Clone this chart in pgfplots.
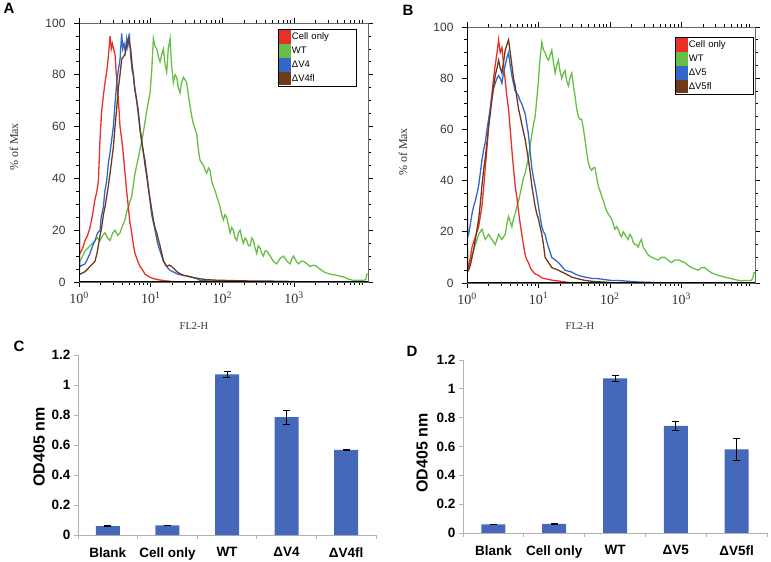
\documentclass[border=0pt]{standalone}
\usepackage{pgfplots}
\pgfplotsset{compat=1.18}
\usepackage{pgfplotstable}
\usepackage{fontspec}
\setmainfont{Liberation Sans}
\newfontfamily\seriffont{Liberation Serif}
\definecolor{cred}{RGB}{232,48,40}
\definecolor{cgreen}{RGB}{104,190,70}
\definecolor{cblue}{RGB}{52,104,200}
\definecolor{cbrown}{RGB}{110,58,28}
\definecolor{cbar}{RGB}{70,104,186}
\definecolor{tickgray}{RGB}{55,55,55}

\pgfplotstableread{
x y e
0 0.060 0.003
1 0.064 0.003
2 1.070 0.020
3 0.785 0.046
4 0.568 0.003
}\tblC
\pgfplotstableread{
x y e
0 0.060 0.003
1 0.063 0.003
2 1.072 0.021
3 0.743 0.030
4 0.580 0.076
}\tblD

\newcommand{\dec}[1]{{\seriffont 10\textsuperscript{#1}}}

\pgfplotsset{
 flow/.style={
  scale only axis, xmin=0, xmax=4.03, ymin=0, ymax=100,
  xtick={0,1,2,3}, xticklabels={\dec{0},\dec{1},\dec{2},\dec{3}},
  minor xtick={0.301,0.477,0.602,0.699,0.778,0.845,0.903,0.954,
   1.301,1.477,1.602,1.699,1.778,1.845,1.903,1.954,
   2.301,2.477,2.602,2.699,2.778,2.845,2.903,2.954,
   3.301,3.477,3.602,3.699,3.778,3.845,3.903,3.954},
  ytick={0,20,40,60,80,100},
  minor ytick={5,10,15,25,30,35,45,50,55,65,70,75,85,90,95},
  tick align=outside, major tick length=5pt, minor tick length=3pt,
  tick style={black, line width=0.7pt},
  axis line style={black!60, line width=0.5pt},
  yticklabel style={font=\fontsize{12}{12}\selectfont, text=tickgray, xshift=-5pt},
  xticklabel style={font=\fontsize{14}{14}\selectfont, text=black!80, yshift=-1pt},
  /pgf/number format/assume math mode=true,
  every axis plot/.append style={line width=1.3pt},
  legend image code/.code={\path[##1] (0pt,-6.9pt) rectangle (12pt,6.9pt);},
  legend cell align=left,
  legend style={draw=black, line width=0.5pt, font=\fontsize{9.5}{9.5}\selectfont,
    inner xsep=1pt, inner ysep=1pt, row sep=0pt,
    nodes={inner sep=0.6pt, minimum height=13.8pt},
    /tikz/column 2/.style={text width=63pt}},
 },
 bars/.style={
  scale only axis, ymin=0, ymax=1.2, ytick={0,0.2,0.4,0.6,0.8,1,1.2},
  xmin=-0.5, xmax=4.5,
  axis x line*=bottom, axis y line*=left,
  axis line style={black!30, line width=0.8pt},
  xtick={-0.5,0.5,1.5,2.5,3.5,4.5}, x tick label as interval,
  tick align=outside, major tick length=4pt,
  tick style={black!30, line width=0.8pt},
  yticklabel style={font=\bfseries\fontsize{13.5}{13.5}\selectfont, text=black},
  xticklabel style={font=\bfseries\fontsize{13.5}{13.5}\selectfont, text=black, yshift=-5pt},
  /pgf/number format/assume math mode=true,
  ybar, bar width=24pt,
 },
}

\begin{document}
\begin{tikzpicture}
\useasboundingbox (0,0) rectangle (771pt,562pt);

% ---------------- Panel A
\begin{axis}[flow, at={(79pt,280pt)}, anchor=south west, width=289pt, height=259pt,
  legend style={at={(0.689,0.977)}, anchor=north west}]
\addlegendimage{fill=cred, draw=none}\addlegendentry{Cell only}
\addlegendimage{fill=cgreen, draw=none}\addlegendentry{WT}
\addlegendimage{fill=cblue, draw=none}\addlegendentry{ΔV4}
\addlegendimage{fill=cbrown, draw=none}\addlegendentry{ΔV4fl}
\addplot[cgreen, forget plot] coordinates {(0,0)(0,60)(0.006,9)(0.014,8)(0.05,10)(0.084,12)(0.12,13)(0.153,14)(0.19,15)(0.223,16)(0.26,17)(0.293,16)(0.33,18)(0.363,19)(0.40,17)(0.433,16)(0.47,19)(0.502,20)(0.54,18)(0.572,19)(0.61,22)(0.642,24)(0.665,27)(0.688,29)(0.71,31)(0.735,33)(0.76,38)(0.781,42)(0.805,45)(0.828,48)(0.85,51)(0.874,54)(0.91,60)(0.944,66)(0.97,70)(0.991,73)(1.015,82)(1.037,94)(1.06,91)(1.084,90)(1.107,87)(1.130,85)(1.155,88)(1.177,90)(1.20,84)(1.223,81)(1.245,90)(1.270,94)(1.29,84)(1.316,77)(1.34,80)(1.363,79)(1.385,75)(1.409,73)(1.43,77)(1.456,79)(1.48,78)(1.502,77)(1.525,72)(1.549,68)(1.572,64)(1.595,61)(1.62,59)(1.642,57)(1.665,51)(1.688,47)(1.71,46)(1.735,45)(1.76,43)(1.781,42)(1.805,44)(1.828,43)(1.85,39)(1.874,37)(1.90,35)(1.921,33)(1.945,31)(1.967,29)(1.99,26)(2.014,24)(2.037,26)(2.060,25)(2.083,22)(2.107,19)(2.13,21)(2.153,20)(2.177,17)(2.200,16)(2.223,19)(2.247,20)(2.27,17)(2.293,15)(2.317,17)(2.340,16)(2.363,14)(2.386,14)(2.41,17)(2.433,16)(2.456,13)(2.479,11)(2.50,14)(2.526,13)(2.55,11)(2.572,10)(2.595,12)(2.619,12)(2.642,11)(2.665,10)(2.71,8)(2.758,7)(2.80,9)(2.851,10)(2.90,8)(2.944,7)(2.97,9)(2.991,10)(3.03,8)(3.060,7)(3.10,8)(3.130,8)(3.18,7)(3.223,6)(3.27,6.5)(3.316,6)(3.36,5)(3.409,4)(3.45,3.5)(3.502,3)(3.55,2.8)(3.595,2.6)(3.64,2.2)(3.688,2)(3.75,1.2)(3.828,0.6)(3.9,0.7)(3.967,0.6)(4.0,1)(4.014,3)(4.03,3)};
\addplot[cred, forget plot] coordinates {(0,0)(0,98)(0.006,12)(0.014,11)(0.05,13)(0.084,16)(0.12,18)(0.153,21)(0.19,26)(0.223,32)(0.25,35)(0.270,39)(0.293,55)(0.316,66)(0.34,72)(0.363,77)(0.39,82)(0.409,87)(0.433,95)(0.45,90)(0.465,92)(0.49,89)(0.502,88)(0.526,78)(0.55,70)(0.572,60)(0.609,52)(0.642,42)(0.665,35)(0.688,29)(0.71,23)(0.735,19)(0.76,14)(0.781,11)(0.82,8)(0.851,6)(0.89,4.5)(0.921,3)(0.98,2)(1.037,1.3)(1.12,0.8)(1.223,0.4)(1.30,0.2)(1.409,0)};
\addplot[cblue, forget plot] coordinates {(0,0)(0,70)(0.006,8)(0.014,6)(0.05,6.5)(0.084,7)(0.12,9)(0.153,11)(0.19,14)(0.223,16)(0.26,19)(0.293,20)(0.31,25)(0.340,29)(0.36,35)(0.386,39)(0.41,46)(0.433,50)(0.456,55)(0.479,60)(0.50,68)(0.526,77)(0.55,82)(0.572,86)(0.595,96)(0.61,90)(0.628,92)(0.645,89)(0.665,94)(0.68,91)(0.702,96)(0.721,87)(0.74,82)(0.758,80)(0.767,77)(0.805,70)(0.828,66)(0.851,59)(0.874,55)(0.898,50)(0.921,47)(0.944,42)(0.967,37)(0.991,31)(1.014,26)(1.037,23)(1.060,20)(1.095,15)(1.130,12)(1.165,9)(1.200,7)(1.235,5.5)(1.270,4.5)(1.32,3.8)(1.363,3.2)(1.41,2.8)(1.456,2.6)(1.52,2.2)(1.595,1.7)(1.65,1.2)(1.688,0.6)(1.8,0.4)(1.921,0.3)(2.05,0.2)(2.153,0)};
\addplot[cbrown, forget plot] coordinates {(0,0)(0,32)(0.006,3.5)(0.014,3)(0.05,3.5)(0.084,4)(0.12,5)(0.153,6)(0.19,7)(0.223,8)(0.25,11)(0.270,14)(0.293,18)(0.316,21)(0.34,26)(0.363,29)(0.386,33)(0.409,37)(0.433,42)(0.456,47)(0.479,52)(0.502,60)(0.526,67)(0.549,75)(0.572,80)(0.595,86)(0.62,87)(0.642,88)(0.665,91)(0.688,94)(0.70,92)(0.721,90)(0.74,84)(0.758,80)(0.78,74)(0.805,70)(0.83,64)(0.851,59)(0.874,54)(0.898,50)(0.921,45)(0.944,41)(0.967,36)(0.991,32)(1.014,28)(1.037,24)(1.060,21)(1.084,19)(1.11,16)(1.130,14)(1.155,11)(1.177,8)(1.200,7)(1.223,6)(1.26,6.5)(1.293,6)(1.33,5)(1.363,4)(1.41,3.2)(1.456,2.6)(1.52,2.2)(1.595,1.7)(1.70,1.2)(1.781,0.9)(1.92,0.7)(2.060,0.6)(2.2,0.5)(2.386,0.4)(2.6,0.35)(2.851,0.3)(3.0,0.15)(3.084,0)};
\draw[black, line width=1.3pt] (rel axis cs:0,1) -- (rel axis cs:0,0) -- (rel axis cs:1,0);
\end{axis}

% ---------------- Panel B
\begin{axis}[flow, at={(467pt,279pt)}, anchor=south west, width=288pt, height=256pt,
  legend style={at={(0.722,0.961)}, anchor=north west}]
\addlegendimage{fill=cred, draw=none}\addlegendentry{Cell only}
\addlegendimage{fill=cgreen, draw=none}\addlegendentry{WT}
\addlegendimage{fill=cblue, draw=none}\addlegendentry{ΔV5}
\addlegendimage{fill=cbrown, draw=none}\addlegendentry{ΔV5fl}
\addplot[cgreen, forget plot] coordinates {(0,0)(0,30)(0.006,7)(0.023,6)(0.047,9)(0.070,11)(0.093,13)(0.116,15)(0.14,17)(0.163,19)(0.186,20)(0.209,21)(0.232,19)(0.256,17)(0.28,18)(0.302,19)(0.325,18)(0.349,17)(0.372,16)(0.395,15)(0.42,17)(0.442,19)(0.465,18)(0.488,17)(0.51,18)(0.535,19)(0.558,23)(0.581,26)(0.605,24)(0.628,22)(0.65,25)(0.674,27)(0.70,30)(0.721,32)(0.745,35)(0.767,38)(0.79,41)(0.814,43)(0.837,46)(0.860,49)(0.885,54)(0.907,58)(0.93,62)(0.953,65)(0.977,72)(1.000,79)(1.023,88)(1.047,94)(1.07,91)(1.093,90)(1.117,88)(1.140,87)(1.163,89)(1.186,91)(1.21,86)(1.233,82)(1.256,85)(1.279,87)(1.30,83)(1.326,80)(1.35,82)(1.372,83)(1.395,79)(1.419,77)(1.44,80)(1.465,82)(1.49,77)(1.512,73)(1.535,68)(1.558,65)(1.58,64)(1.605,64)(1.63,60)(1.651,56)(1.675,51)(1.698,47)(1.72,45)(1.744,44)(1.77,45)(1.791,45)(1.815,41)(1.837,38)(1.86,36)(1.884,34)(1.91,32)(1.930,30)(1.955,28)(1.977,27)(2.0,26)(2.023,25)(2.047,23)(2.070,21)(2.093,22)(2.116,21)(2.14,19)(2.163,18)(2.186,20)(2.209,19)(2.23,18)(2.256,17)(2.28,19)(2.302,18)(2.325,16)(2.349,15)(2.372,15)(2.395,14)(2.42,16)(2.442,17)(2.465,14)(2.488,13)(2.51,12)(2.535,11)(2.558,10.5)(2.581,10)(2.63,9.5)(2.674,9)(2.72,10)(2.767,10)(2.81,9)(2.860,8)(2.91,9)(2.953,9)(3.0,8.5)(3.047,8)(3.09,7)(3.140,6)(3.19,5.5)(3.233,5)(3.28,6)(3.326,6)(3.37,5)(3.419,4)(3.465,3.5)(3.512,3)(3.56,2.7)(3.605,2.3)(3.65,2)(3.698,1.7)(3.77,1.2)(3.837,0.8)(3.9,1)(3.977,1)(4.0,2)(4.014,4)(4.03,4)};
\addplot[cred, forget plot] coordinates {(0,0)(0,97)(0.006,8)(0.023,6)(0.047,10)(0.070,14)(0.093,16)(0.116,18)(0.14,20)(0.163,22)(0.186,26)(0.209,30)(0.232,37)(0.256,45)(0.28,53)(0.302,61)(0.325,68)(0.349,74)(0.372,80)(0.395,85)(0.42,90)(0.442,95)(0.465,90)(0.488,92)(0.51,86)(0.535,79)(0.558,73)(0.581,68)(0.605,60)(0.628,52)(0.65,45)(0.674,38)(0.70,33)(0.721,28)(0.745,23)(0.767,19)(0.79,15)(0.814,11)(0.837,9)(0.860,8)(0.885,6)(0.907,5)(0.953,3.5)(1.000,3)(1.047,2)(1.093,1.7)(1.19,1.1)(1.279,0.8)(1.37,0.4)(1.465,0)};
\addplot[cblue, forget plot] coordinates {(0,0)(0,95)(0.006,21)(0.023,19)(0.047,23)(0.070,27)(0.093,30)(0.116,32)(0.14,35)(0.163,38)(0.186,43)(0.209,48)(0.232,52)(0.256,55)(0.28,60)(0.302,64)(0.325,68)(0.349,72)(0.372,76)(0.395,78)(0.42,80)(0.442,81)(0.465,80)(0.488,78)(0.51,82)(0.535,85)(0.558,88)(0.581,90)(0.605,85)(0.628,81)(0.65,78)(0.674,75)(0.70,74)(0.721,73)(0.745,71)(0.767,70)(0.79,68)(0.814,66)(0.837,62)(0.860,58)(0.885,51)(0.907,45)(0.93,41)(0.953,38)(0.977,34)(1.000,30)(1.023,26)(1.047,22)(1.07,20)(1.093,19)(1.117,16)(1.140,14)(1.163,12)(1.186,10)(1.233,9)(1.279,8)(1.326,6.5)(1.372,5)(1.419,4.6)(1.465,4.3)(1.512,3.5)(1.558,3)(1.605,2.6)(1.651,2.3)(1.744,1.8)(1.837,1.7)(1.93,1.3)(2.023,1)(2.116,1)(2.25,0.7)(2.395,0.4)(2.6,0.2)(2.814,0)};
\addplot[cbrown, forget plot] coordinates {(0,0)(0,45)(0.006,6)(0.023,5)(0.047,7)(0.070,10)(0.093,13)(0.116,17)(0.14,21)(0.163,25)(0.186,31)(0.209,38)(0.232,44)(0.256,49)(0.28,55)(0.302,61)(0.325,66)(0.349,72)(0.372,77)(0.395,81)(0.42,84)(0.442,87)(0.465,84)(0.488,82)(0.51,86)(0.535,91)(0.558,93)(0.581,95)(0.605,90)(0.628,85)(0.65,80)(0.674,77)(0.70,72)(0.721,68)(0.745,65)(0.767,62)(0.79,59)(0.814,56)(0.837,52)(0.860,48)(0.885,43)(0.907,38)(0.93,34)(0.953,30)(0.977,27)(1.000,25)(1.023,22)(1.047,19)(1.07,15)(1.093,10)(1.117,9)(1.140,8)(1.163,7)(1.186,6)(1.233,5.5)(1.279,5)(1.326,4.3)(1.372,3.7)(1.419,3)(1.465,2.3)(1.558,1.6)(1.651,1)(1.77,0.6)(1.884,0.4)(2.0,0.2)(2.116,0)};
\draw[black, line width=1.3pt] (rel axis cs:0,1) -- (rel axis cs:0,0) -- (rel axis cs:1,0);
\end{axis}

% ---------------- Panel C
\begin{axis}[bars, at={(78pt,27pt)}, anchor=south west, width=298pt, height=180pt,
  xticklabels={Blank,Cell only,WT,ΔV4,ΔV4fl}]
\addplot[fill=cbar, draw=none, error bars/.cd, y dir=both, y explicit,
  error bar style={black, line width=0.8pt},
  error mark options={rotate=90, mark size=3.5pt, black, line width=0.8pt}]
  table[x=x, y=y, y error=e] {\tblC};
\end{axis}

% ---------------- Panel D
\begin{axis}[bars, at={(463pt,29pt)}, anchor=south west, width=304pt, height=173pt,
  xticklabels={Blank,Cell only,WT,ΔV5,ΔV5fl}]
\addplot[fill=cbar, draw=none, error bars/.cd, y dir=both, y explicit,
  error bar style={black, line width=0.8pt},
  error mark options={rotate=90, mark size=3.5pt, black, line width=0.8pt}]
  table[x=x, y=y, y error=e] {\tblD};
\end{axis}

% ---------------- Labels
\node[font=\bfseries\fontsize{15}{15}\selectfont] at (9pt,554pt) {A};
\node[font=\bfseries\fontsize{15}{15}\selectfont] at (408pt,552pt) {B};
\node[font=\bfseries\fontsize{15}{15}\selectfont] at (19pt,216pt) {C};
\node[font=\bfseries\fontsize{15}{15}\selectfont] at (412pt,211pt) {D};
\node[rotate=90, font=\seriffont\fontsize{12}{12}\selectfont, text=black!80] at (14pt,415pt) {\% of Max};
\node[rotate=90, font=\seriffont\fontsize{12}{12}\selectfont, text=black!80] at (403pt,410pt) {\% of Max};
\node[font=\seriffont\fontsize{10.5}{10.5}\selectfont, text=black!80] at (194pt,236pt) {FL2-H};
\node[font=\seriffont\fontsize{10.5}{10.5}\selectfont, text=black!80] at (580pt,236pt) {FL2-H};
\node[rotate=90, font=\bfseries\fontsize{16}{16}\selectfont] at (39pt,115pt) {OD405 nm};
\node[rotate=90, font=\bfseries\fontsize{16}{16}\selectfont] at (422pt,109pt) {OD405 nm};
\end{tikzpicture}
\end{document}
